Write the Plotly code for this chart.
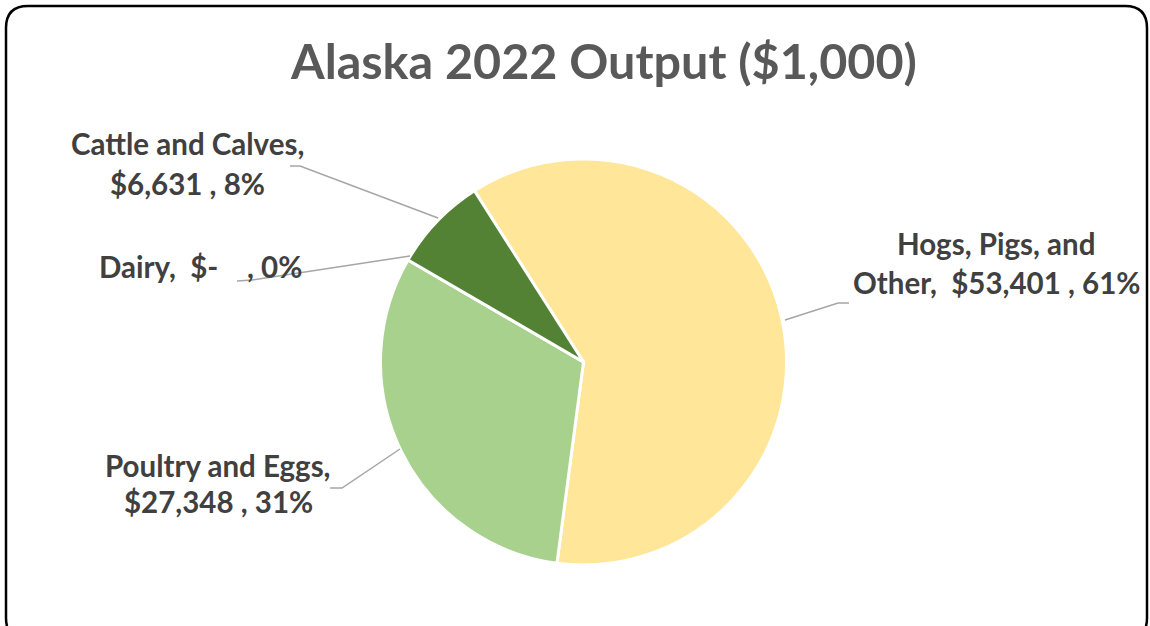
import plotly.graph_objects as go

# ---- data ----
categories = ["Hogs, Pigs, and Other", "Poultry and Eggs", "Dairy", "Cattle and Calves"]
values = [53401, 27348, 0, 6631]
colors = ["#FFE699", "#A9D18E", "#70AD47", "#548235"]
title_text = "Alaska 2022 Output ($1,000)"

W, H = 1150, 626
total = sum(values)


def money(v):
    return "$-   " if v == 0 else f"${v:,}"


def label_lines(i):
    name = categories[i]
    pct = f"{round(100 * values[i] / total)}%"
    m = money(values[i])
    if i == 0:
        return ["Hogs, Pigs, and", f"Other,  {m} , {pct}"]
    if i == 2:
        return [f"{name},  {m} , {pct}"]
    return [f"{name},", f"{m} , {pct}"]


# label layout (pixel positions of each text line centre, leader polyline)
label_specs = {
    0: dict(x=996, ys=[243, 283], line=[(849, 303), (838, 303), (785, 320)]),
    1: dict(x=218, ys=[465, 501], line=[(330, 488), (342, 488), (400, 449)]),
    2: dict(x=200, ys=[266], line=[(237, 281), (252, 280), (410, 256)]),
    3: dict(x=187, ys=[143, 183], line=[(290, 166), (300, 166), (438, 218)]),
}


def px(x):
    return x / W


def py(y):
    return 1 - y / H


fig = go.Figure()

cx, cy, r = 583.5, 362, 203
fig.add_trace(go.Pie(
    labels=categories,
    values=values,
    sort=False,
    direction="clockwise",
    rotation=-32.5,
    marker=dict(colors=colors, line=dict(color="white", width=3)),
    textinfo="none",
    hoverinfo="label+value+percent",
    showlegend=False,
    domain=dict(x=[px(cx - r), px(cx + r)], y=[py(cy + r), py(cy - r)]),
))

annotations = []
shapes = []
font_family = "Lato, Liberation Sans, sans-serif"
for i, spec in label_specs.items():
    for text, y in zip(label_lines(i), spec["ys"]):
        annotations.append(dict(
            x=px(spec["x"]), y=py(y), xref="paper", yref="paper", text=text,
            showarrow=False, xanchor="center", yanchor="middle",
            font=dict(family=font_family, size=29.5, color="#404040", weight="bold"),
        ))
    pts = spec["line"]
    path = "M " + " L ".join(f"{px(a):.5f},{py(b):.5f}" for a, b in pts)
    shapes.append(dict(type="path", path=path, xref="paper", yref="paper",
                       line=dict(color="#A6A6A6", width=1.5)))

# rounded chart border
x0, x1, y0, y1, rr = 6, 1147, 6, 640, 22
rx, ry = rr / W, rr / H
border = (f"M {px(x0)+rx},{py(y0)} L {px(x1)-rx},{py(y0)} "
          f"Q {px(x1)},{py(y0)} {px(x1)},{py(y0)-ry} "
          f"L {px(x1)},{py(y1)+ry} Q {px(x1)},{py(y1)} {px(x1)-rx},{py(y1)} "
          f"L {px(x0)+rx},{py(y1)} Q {px(x0)},{py(y1)} {px(x0)},{py(y1)+ry} "
          f"L {px(x0)},{py(y0)-ry} Q {px(x0)},{py(y0)} {px(x0)+rx},{py(y0)} Z")
shapes.append(dict(type="path", path=border, xref="paper", yref="paper",
                   line=dict(color="black", width=2.5)))

annotations.append(dict(
    x=px(603), y=py(60), xref="paper", yref="paper", text=title_text, showarrow=False,
    xanchor="center", yanchor="middle",
    font=dict(family=font_family, size=48.5, color="#595959", weight="bold"),
))

fig.update_layout(
    width=W, height=H,
    margin=dict(l=0, r=0, t=0, b=0),
    paper_bgcolor="white", plot_bgcolor="white",
    annotations=annotations, shapes=shapes,
)

fig.write_html("out.html", config={"displayModeBar": False},
               post_script="document.body.style.margin='0';")
